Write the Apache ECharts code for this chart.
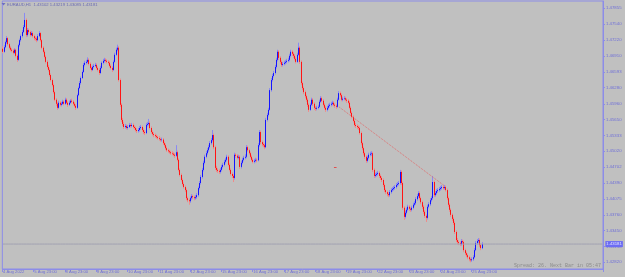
<!DOCTYPE html>
<html><head><meta charset="utf-8">
<script src="https://cdn.jsdelivr.net/npm/echarts@6/dist/echarts.min.js"></script>
<style>html,body{margin:0;padding:0;background:#c0c0c0}#c{width:625px;height:277px}</style>
</head><body><div id="c"></div>
<script>
const symbolTitle = 'EURAUD,H1  1.43102 1.43219 1.43085 1.43181';
const spreadText = 'Spread: 26. Next Bar in 05:47';
const timeLabels = ['4 Aug 2022','5 Aug 23:00','8 Aug 23:00','9 Aug 23:00','10 Aug 23:00','11 Aug 23:00','12 Aug 23:00','15 Aug 23:00','16 Aug 23:00','17 Aug 23:00','18 Aug 23:00','19 Aug 23:00','22 Aug 23:00','23 Aug 23:00','24 Aug 23:00','25 Aug 23:00'];
const barsPerLabel = 24;
const totalSlots = 461;
const priceTicks = [1.42820,1.43130,1.43450,1.43760,1.44075,1.44390,1.44702,1.45020,1.45333,1.45650,1.45960,1.46280,1.46593,1.46910,1.47220,1.47540,1.47855];
const bidPrice = 1.43181;
const trendFrom = [258, 1.45896];
const trendTo = [339, 1.44331];
const orderMarkFrom = [254, 1.4471];
const orderMarkTo = [256, 1.4471];
const firstOpen = 1.4705;
const closes = [
1.4699,1.4708,1.4718,1.4726,1.4714,1.4707,1.4703,1.4701,1.4697,1.4703,
1.4691,1.4683,1.4712,1.4722,1.4730,1.4738,1.4748,1.4762,1.4732,1.4742,
1.4738,1.4732,1.4736,1.4730,1.4726,1.4725,1.4722,1.4730,1.4736,1.4722,
1.4707,1.4699,1.4689,1.4679,1.4669,1.4663,1.4653,1.4643,1.4633,1.4619,
1.4604,1.4596,1.4588,1.4598,1.4594,1.4596,1.4600,1.4596,1.4604,1.4598,
1.4594,1.4598,1.4602,1.4600,1.4596,1.4592,1.4588,1.4613,1.4627,1.4637,
1.4647,1.4659,1.4673,1.4677,1.4679,1.4683,1.4675,1.4667,1.4663,1.4669,
1.4671,1.4673,1.4667,1.4663,1.4657,1.4667,1.4677,1.4681,1.4683,1.4681,
1.4679,1.4677,1.4671,1.4667,1.4663,1.4679,1.4693,1.4703,1.4707,1.4643,
1.4594,1.4564,1.4556,1.4550,1.4552,1.4548,1.4550,1.4554,1.4552,1.4554,
1.4550,1.4548,1.4544,1.4542,1.4544,1.4548,1.4550,1.4544,1.4540,1.4538,
1.4554,1.4556,1.4558,1.4548,1.4540,1.4536,1.4534,1.4532,1.4530,1.4528,
1.4526,1.4524,1.4525,1.4518,1.4514,1.4508,1.4504,1.4502,1.4500,1.4498,
1.4497,1.4495,1.4493,1.4500,1.4485,1.4465,1.4455,1.4445,1.4437,1.4431,
1.4425,1.4409,1.4405,1.4403,1.4409,1.4413,1.4411,1.4409,1.4411,1.4415,
1.4429,1.4439,1.4451,1.4465,1.4479,1.4491,1.4498,1.4504,1.4510,1.4518,
1.4524,1.4534,1.4510,1.4469,1.4465,1.4463,1.4461,1.4465,1.4471,1.4475,
1.4481,1.4485,1.4491,1.4475,1.4465,1.4457,1.4453,1.4449,1.4495,1.4493,
1.4489,1.4491,1.4471,1.4479,1.4485,1.4489,1.4491,1.4510,1.4504,1.4498,
1.4491,1.4485,1.4481,1.4483,1.4485,1.4484,1.4514,1.4540,1.4520,1.4516,
1.4514,1.4510,1.4564,1.4574,1.4584,1.4623,1.4643,1.4651,1.4657,1.4669,
1.4683,1.4699,1.4687,1.4679,1.4673,1.4675,1.4677,1.4679,1.4681,1.4683,
1.4691,1.4699,1.4695,1.4691,1.4685,1.4679,1.4693,1.4707,1.4679,1.4637,
1.4627,1.4619,1.4611,1.4604,1.4594,1.4584,1.4594,1.4604,1.4596,1.4588,
1.4586,1.4588,1.4590,1.4600,1.4607,1.4602,1.4594,1.4588,1.4584,1.4588,
1.4592,1.4594,1.4596,1.4598,1.4594,1.4592,1.4590,1.4604,1.4617,1.4613,
1.4604,1.4606,1.4607,1.4604,1.4602,1.4598,1.4588,1.4578,1.4570,1.4562,
1.4554,1.4552,1.4550,1.4548,1.4538,1.4518,1.4508,1.4498,1.4491,1.4483,
1.4489,1.4495,1.4497,1.4498,1.4465,1.4453,1.4455,1.4457,1.4459,1.4453,
1.4449,1.4445,1.4435,1.4425,1.4421,1.4417,1.4415,1.4421,1.4425,1.4427,
1.4429,1.4431,1.4435,1.4437,1.4439,1.4461,1.4439,1.4390,1.4372,1.4380,
1.4386,1.4392,1.4388,1.4386,1.4390,1.4396,1.4399,1.4407,1.4413,1.4419,
1.4409,1.4401,1.4392,1.4382,1.4374,1.4370,1.4392,1.4397,1.4405,1.4409,
1.4441,1.4415,1.4419,1.4423,1.4425,1.4427,1.4429,1.4431,1.4429,1.4431,
1.4425,1.4409,1.4396,1.4386,1.4376,1.4368,1.4360,1.4342,1.4326,1.4322,
1.4320,1.4318,1.4324,1.4322,1.4306,1.4300,1.4296,1.4292,1.4288,1.4286,
1.4288,1.4292,1.4306,1.4320,1.4324,1.4326,1.4316,1.4310,1.4318];
const highs = [
1.4710,1.4712,1.4721,1.4730,1.4728,1.4717,1.4710,1.4706,1.4704,1.4706,
1.4705,1.4694,1.4715,1.4725,1.4733,1.4742,1.4752,1.4776,1.4765,1.4746,
1.4745,1.4741,1.4740,1.4739,1.4733,1.4729,1.4728,1.4734,1.4740,1.4738,
1.4724,1.4710,1.4702,1.4692,1.4682,1.4673,1.4666,1.4656,1.4646,1.4636,
1.4622,1.4607,1.4599,1.4602,1.4601,1.4600,1.4604,1.4603,1.4608,1.4607,
1.4601,1.4602,1.4605,1.4606,1.4603,1.4599,1.4595,1.4616,1.4630,1.4641,
1.4650,1.4662,1.4677,1.4681,1.4683,1.4688,1.4686,1.4678,1.4670,1.4672,
1.4675,1.4677,1.4676,1.4670,1.4666,1.4671,1.4680,1.4685,1.4687,1.4686,
1.4684,1.4682,1.4680,1.4674,1.4670,1.4682,1.4697,1.4707,1.4713,1.4710,
1.4646,1.4597,1.4568,1.4560,1.4556,1.4555,1.4554,1.4558,1.4557,1.4558,
1.4557,1.4553,1.4551,1.4547,1.4548,1.4552,1.4554,1.4553,1.4547,1.4543,
1.4558,1.4560,1.4566,1.4561,1.4551,1.4543,1.4539,1.4537,1.4535,1.4533,
1.4532,1.4529,1.4529,1.4528,1.4521,1.4517,1.4511,1.4507,1.4505,1.4503,
1.4502,1.4500,1.4498,1.4514,1.4503,1.4488,1.4468,1.4458,1.4448,1.4440,
1.4434,1.4428,1.4412,1.4408,1.4412,1.4417,1.4416,1.4414,1.4415,1.4419,
1.4432,1.4443,1.4455,1.4469,1.4483,1.4495,1.4502,1.4508,1.4514,1.4522,
1.4528,1.4544,1.4537,1.4513,1.4473,1.4468,1.4466,1.4469,1.4475,1.4479,
1.4485,1.4489,1.4495,1.4494,1.4478,1.4468,1.4460,1.4456,1.4499,1.4498,
1.4496,1.4495,1.4494,1.4483,1.4489,1.4493,1.4496,1.4514,1.4513,1.4507,
1.4501,1.4494,1.4488,1.4487,1.4489,1.4488,1.4518,1.4544,1.4543,1.4523,
1.4519,1.4517,1.4568,1.4578,1.4588,1.4627,1.4647,1.4655,1.4661,1.4673,
1.4687,1.4703,1.4702,1.4690,1.4682,1.4679,1.4681,1.4683,1.4685,1.4687,
1.4695,1.4703,1.4702,1.4698,1.4694,1.4688,1.4697,1.4717,1.4710,1.4682,
1.4640,1.4630,1.4622,1.4614,1.4607,1.4597,1.4598,1.4608,1.4607,1.4599,
1.4591,1.4592,1.4594,1.4604,1.4611,1.4610,1.4605,1.4597,1.4591,1.4592,
1.4596,1.4598,1.4600,1.4602,1.4601,1.4597,1.4595,1.4608,1.4621,1.4620,
1.4616,1.4610,1.4611,1.4610,1.4607,1.4605,1.4601,1.4591,1.4581,1.4573,
1.4565,1.4558,1.4555,1.4553,1.4551,1.4541,1.4521,1.4511,1.4501,1.4494,
1.4493,1.4499,1.4501,1.4502,1.4501,1.4468,1.4459,1.4461,1.4463,1.4462,
1.4456,1.4452,1.4448,1.4438,1.4428,1.4424,1.4420,1.4425,1.4429,1.4431,
1.4433,1.4435,1.4439,1.4441,1.4443,1.4465,1.4464,1.4442,1.4393,1.4384,
1.4390,1.4396,1.4395,1.4391,1.4394,1.4400,1.4403,1.4411,1.4417,1.4423,
1.4422,1.4412,1.4404,1.4395,1.4385,1.4377,1.4396,1.4401,1.4409,1.4413,
1.4453,1.4444,1.4423,1.4427,1.4429,1.4431,1.4433,1.4435,1.4434,1.4435,
1.4434,1.4428,1.4412,1.4399,1.4389,1.4379,1.4371,1.4363,1.4345,1.4330,
1.4325,1.4323,1.4328,1.4327,1.4325,1.4309,1.4303,1.4299,1.4295,1.4291,
1.4292,1.4296,1.4310,1.4324,1.4328,1.4330,1.4329,1.4319,1.4322];
const lows = [
1.4696,1.4697,1.4706,1.4715,1.4711,1.4704,1.4700,1.4698,1.4694,1.4695,
1.4688,1.4679,1.4681,1.4709,1.4719,1.4727,1.4736,1.4745,1.4728,1.4729,
1.4734,1.4729,1.4730,1.4727,1.4722,1.4721,1.4718,1.4720,1.4728,1.4719,
1.4704,1.4696,1.4686,1.4676,1.4666,1.4660,1.4650,1.4640,1.4630,1.4616,
1.4601,1.4592,1.4584,1.4586,1.4591,1.4591,1.4594,1.4593,1.4594,1.4595,
1.4590,1.4592,1.4596,1.4597,1.4593,1.4589,1.4584,1.4586,1.4611,1.4625,
1.4634,1.4645,1.4657,1.4670,1.4674,1.4676,1.4672,1.4664,1.4660,1.4661,
1.4666,1.4669,1.4664,1.4660,1.4653,1.4655,1.4665,1.4674,1.4678,1.4678,
1.4676,1.4674,1.4668,1.4664,1.4659,1.4661,1.4677,1.4691,1.4700,1.4640,
1.4590,1.4560,1.4552,1.4546,1.4547,1.4545,1.4545,1.4548,1.4549,1.4549,
1.4547,1.4545,1.4541,1.4538,1.4539,1.4541,1.4545,1.4541,1.4536,1.4534,
1.4536,1.4551,1.4553,1.4545,1.4537,1.4533,1.4530,1.4529,1.4527,1.4525,
1.4523,1.4521,1.4521,1.4515,1.4511,1.4505,1.4501,1.4499,1.4497,1.4495,
1.4494,1.4492,1.4489,1.4491,1.4482,1.4462,1.4452,1.4442,1.4434,1.4428,
1.4421,1.4405,1.4401,1.4396,1.4400,1.4406,1.4407,1.4405,1.4406,1.4408,
1.4412,1.4426,1.4436,1.4448,1.4462,1.4476,1.4488,1.4495,1.4501,1.4507,
1.4515,1.4521,1.4506,1.4465,1.4461,1.4459,1.4457,1.4458,1.4462,1.4468,
1.4472,1.4478,1.4482,1.4472,1.4462,1.4454,1.4449,1.4441,1.4446,1.4489,
1.4486,1.4486,1.4467,1.4468,1.4476,1.4482,1.4486,1.4488,1.4501,1.4495,
1.4488,1.4482,1.4478,1.4478,1.4480,1.4480,1.4482,1.4511,1.4516,1.4512,
1.4510,1.4506,1.4508,1.4561,1.4571,1.4582,1.4620,1.4640,1.4648,1.4654,
1.4666,1.4680,1.4683,1.4675,1.4669,1.4670,1.4672,1.4674,1.4676,1.4678,
1.4680,1.4688,1.4691,1.4687,1.4682,1.4676,1.4677,1.4691,1.4675,1.4633,
1.4623,1.4615,1.4607,1.4600,1.4590,1.4580,1.4582,1.4592,1.4592,1.4584,
1.4582,1.4583,1.4585,1.4588,1.4598,1.4599,1.4591,1.4585,1.4580,1.4581,
1.4585,1.4589,1.4591,1.4593,1.4591,1.4588,1.4586,1.4588,1.4602,1.4610,
1.4601,1.4601,1.4603,1.4601,1.4598,1.4595,1.4585,1.4575,1.4567,1.4559,
1.4551,1.4548,1.4546,1.4544,1.4535,1.4514,1.4504,1.4494,1.4487,1.4479,
1.4480,1.4486,1.4492,1.4493,1.4461,1.4449,1.4450,1.4452,1.4454,1.4449,
1.4445,1.4441,1.4431,1.4421,1.4417,1.4413,1.4411,1.4412,1.4418,1.4422,
1.4424,1.4426,1.4428,1.4432,1.4434,1.4436,1.4435,1.4386,1.4366,1.4369,
1.4377,1.4383,1.4384,1.4382,1.4383,1.4387,1.4393,1.4396,1.4404,1.4410,
1.4405,1.4397,1.4388,1.4378,1.4370,1.4362,1.4367,1.4389,1.4394,1.4402,
1.4406,1.4411,1.4412,1.4416,1.4420,1.4422,1.4424,1.4426,1.4426,1.4426,
1.4422,1.4405,1.4392,1.4382,1.4372,1.4364,1.4356,1.4338,1.4322,1.4318,
1.4316,1.4314,1.4315,1.4318,1.4302,1.4296,1.4292,1.4288,1.4284,1.4282,
1.4283,1.4285,1.4290,1.4304,1.4317,1.4321,1.4312,1.4306,1.4308];

const cats = Array.from({length: totalSlots}, (_, i) => i);
const opens = closes.map((c, i) => (i === 0 ? firstOpen : closes[i - 1]));
const wickData = closes.map((c, i) => [opens[i], c, lows[i], highs[i]]);
const bodyData = closes.map((c, i) => [opens[i], c, Math.min(opens[i], c), Math.max(opens[i], c)]);
const bidData = cats.map(() => bidPrice);
const isLabelIdx = (i) => i % barsPerLabel === 0 && i / barsPerLabel < timeLabels.length;

const axisCol = '#8c8ce8';
const textCol = '#6e6ed8';
const chart = echarts.init(document.getElementById('c'), null, {renderer: 'canvas'});
chart.setOption({
  animation: false,
  backgroundColor: '#c0c0c0',
  grid: {left: 1, right: 22, top: 1, bottom: 8, show: true, borderColor: axisCol, borderWidth: 1, backgroundColor: 'transparent'},
  xAxis: {
    type: 'category', data: cats, boundaryGap: true,
    axisLine: {show: true, lineStyle: {color: axisCol, width: 1}},
    axisTick: {show: true, interval: isLabelIdx, length: 3, lineStyle: {color: axisCol}},
    axisLabel: {interval: isLabelIdx, formatter: (v, i) => timeLabels[i / barsPerLabel] || '', fontSize: 4.2, color: textCol, align: 'left', margin: 1, fontFamily: 'Liberation Sans'},
    splitLine: {show: false}
  },
  yAxis: {
    type: 'value', position: 'right', min: 1.42687, max: 1.47996,
    axisLine: {show: true, lineStyle: {color: axisCol, width: 1}},
    axisTick: {show: true, customValues: priceTicks, length: 2, lineStyle: {color: axisCol}},
    axisLabel: {customValues: priceTicks, formatter: (v) => v.toFixed(5), fontSize: 4.3, margin: 3, color: textCol, fontFamily: 'Liberation Sans'},
    splitLine: {show: false}
  },
  series: [
    {
      type: 'line', data: bidData, silent: true, showSymbol: false, symbol: 'none',
      lineStyle: {color: '#a2a2b2', width: 1},
      endLabel: {show: true, formatter: () => bidPrice.toFixed(5), backgroundColor: '#6c6cf4', color: '#e4e4ff', fontSize: 4.3, padding: [1, 1], distance: 3, fontFamily: 'Liberation Sans'},
      markLine: {
        silent: true, symbol: ['none', 'none'], animation: false,
        data: [
          [{coord: trendFrom, lineStyle: {color: '#e07070', type: 'dotted', width: 1}, label: {show: false}}, {coord: trendTo}],
          [{coord: orderMarkFrom, lineStyle: {color: '#e05050', type: 'solid', width: 1}, label: {show: false}}, {coord: orderMarkTo}]
        ]
      }
    },
    {
      type: 'candlestick', data: wickData, barWidth: 1, silent: true,
      itemStyle: {color: '#8a8af2', color0: '#f08a8a', borderColor: '#8a8af2', borderColor0: '#f08a8a', borderWidth: 1}
    },
    {
      type: 'candlestick', data: bodyData, barWidth: 1, silent: true,
      itemStyle: {color: '#1414ff', color0: '#ff1414', borderColor: '#1414ff', borderColor0: '#ff1414', borderWidth: 1}
    }
  ],
  graphic: [
    {type: 'polygon', shape: {points: [[1.5, 3], [5.5, 3], [3.5, 5.5]]}, style: {fill: '#6e6ec0'}},
    {type: 'text', x: 7, y: 4.5, style: {text: symbolTitle, fontSize: 4.2, fill: '#6a6ab4', verticalAlign: 'middle', fontFamily: 'Liberation Sans'}},
    {type: 'text', x: 601, y: 266, style: {text: spreadText, fontSize: 5, fill: '#8a8a8a', align: 'right', verticalAlign: 'middle', fontFamily: 'Liberation Mono'}}
  ]
});
</script>
</body></html>
